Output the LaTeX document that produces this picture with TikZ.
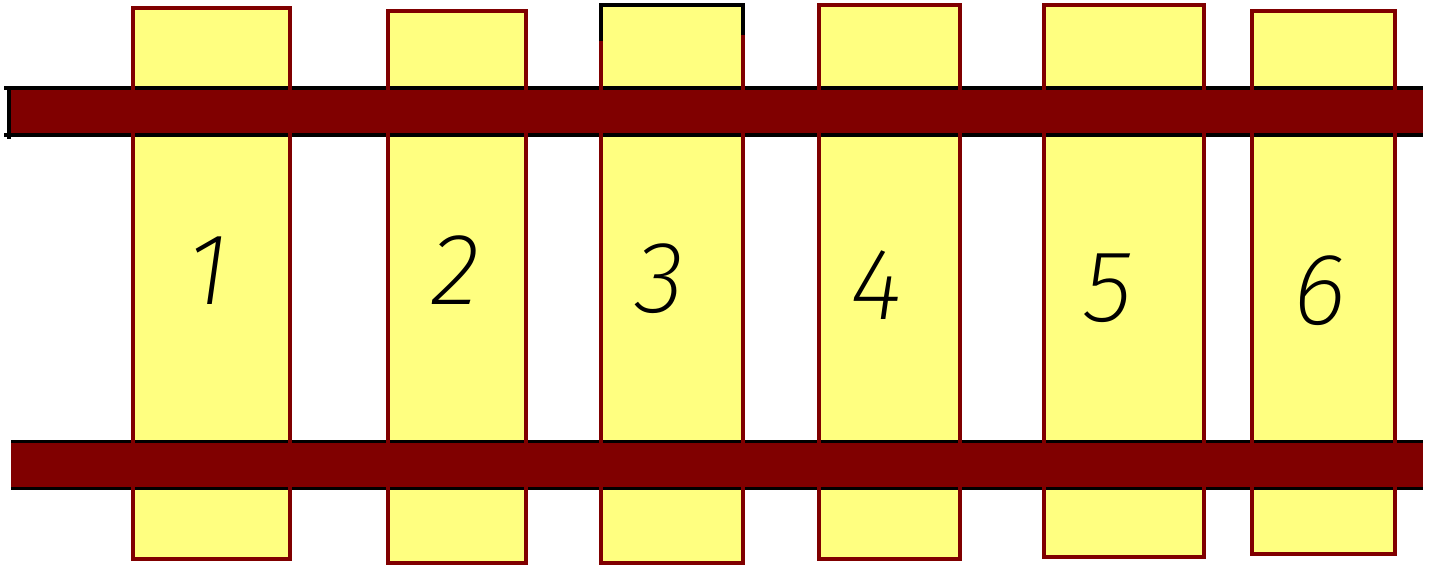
\documentclass[tikz,border=0pt]{standalone}
\usepackage{fontspec}
\usepackage{tikz}
\newfontfamily\digitfont{Fira Sans ExtraLight Italic}
\definecolor{railred}{HTML}{800000}
\definecolor{tiefill}{HTML}{FFFF80}
\tikzset{
  tiebody/.style={fill=tiefill,draw=none},
  tieedge/.style={draw=railred,line width=2.2pt},
  railbody/.style={fill=railred,draw=none},
  railedge/.style={draw=black,line width=1.9pt},
  num/.style={font=\digitfont\fontsize{58}{60}\selectfont,inner sep=0pt}
}
\newcommand{\rail}[3]{%
  \fill[railbody] (#1,#3) rectangle (1423,#3+47);
  \draw[railedge] (#2,#3) -- (1423,#3);
  \draw[railedge] (#2,#3+47) -- (1423,#3+47);
}

\begin{document}
\begin{tikzpicture}[x=0.02cm,y=-0.02cm]
  \useasboundingbox (0,0) rectangle (1434,565);
  % sleepers
  \foreach \xa/\ya/\xb/\yb in {133/8/290/559, 388/11/526/563, 601/5/743/563, 819/5/960/559, 1044/5/1204/557, 1252/11/1395/554}
    \fill[tiebody] (\xa,\ya) rectangle (\xb,\yb);
  % rails
  \rail{9}{4}{88}
  \rail{11}{11}{441.5}
  \draw[railedge,line width=2.2pt] (9,88) -- (9,139);
  % sleeper outlines over the rails
  \foreach \xa/\ya/\xb/\yb in {133/8/290/559, 388/11/526/563, 601/5/743/563, 819/5/960/559, 1044/5/1204/557, 1252/11/1395/554}
    \draw[tieedge] (\xa,\ya) rectangle (\xb,\yb);
  \draw[railedge] (601,41) -- (601,5) -- (743,5) -- (743,35);
  % numbers
  \node[num] (n1) at (208,271) {1};
  \node[num] (n2) at (455,270) {2};
  \node[num] (n3) at (660,279) {3};
  \node[num] (n4) at (877,285) {4};
  \node[num] (n5) at (1108,288) {5};
  \node[num] (n6) at (1320,291) {6};
\end{tikzpicture}
\end{document}
